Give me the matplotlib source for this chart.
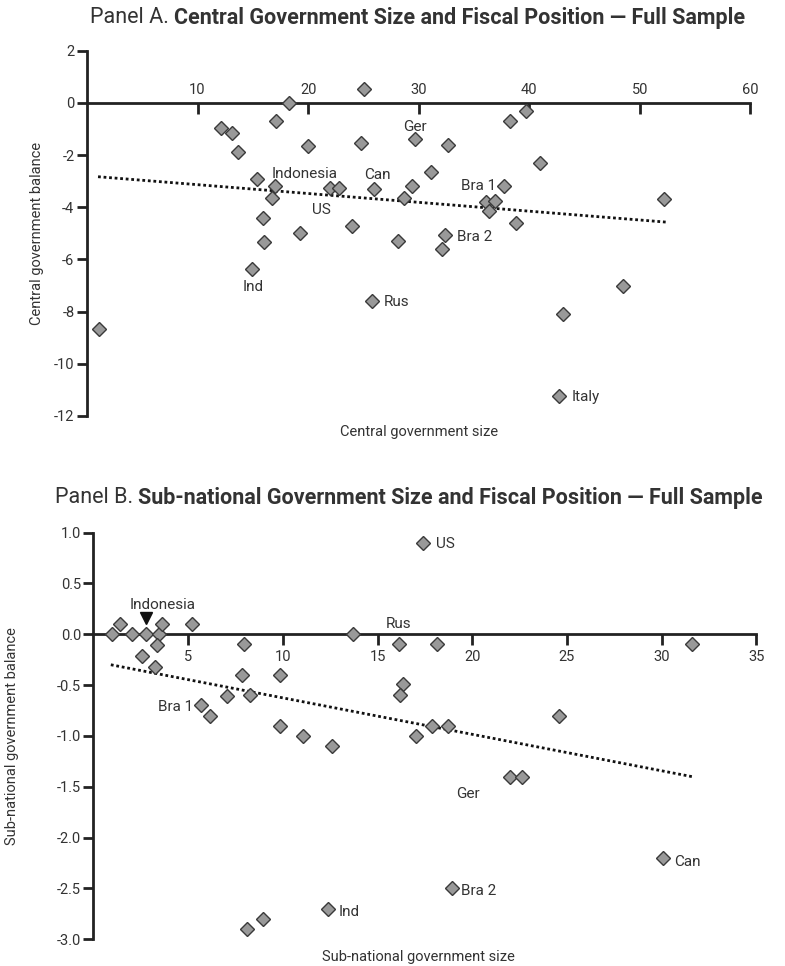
import matplotlib
matplotlib.use("Agg")
import matplotlib.pyplot as plt

plt.rcParams['font.family'] = ['Roboto', 'DejaVu Sans']
plt.rcParams['axes.unicode_minus'] = False

# Panel A: central government size vs balance
cent_x = [1.1, 12.1, 13.1, 13.7, 15.4, 15.9, 16.0, 14.9, 16.75, 17.0, 17.1, 18.3, 19.3, 20.0,
          22.0, 22.8, 24.0, 24.8, 25.1, 25.8, 26.0, 28.1, 28.7, 29.4, 29.7, 31.1, 32.1, 32.4,
          32.7, 36.1, 36.4, 36.9, 37.7, 38.3, 38.8, 39.7, 41.0, 42.7, 43.1, 48.5, 52.2]
cent_y = [-8.66, -0.95, -1.15, -1.9, -2.9, -4.4, -5.35, -6.35, -3.65, -3.2, -0.7, 0.0, -5.0, -1.65,
          -3.25, -3.25, -4.7, -1.55, 0.55, -7.6, -3.3, -5.3, -3.65, -3.2, -1.4, -2.65, -5.6, -5.05,
          -1.6, -3.8, -4.15, -3.75, -3.2, -0.7, -4.6, -0.3, -2.3, -11.25, -8.1, -7.0, -3.7]
cent_trend_x = [1.0, 52.4]
cent_trend_y = [-2.83, -4.57]
cent_labels = [("Ger", 29.7, -0.92, "center"), ("Indonesia", 19.65, -2.72, "center"),
               ("Can", 26.3, -2.78, "center"), ("US", 21.2, -4.11, "center"),
               ("Bra 1", 35.4, -3.19, "center"), ("Bra 2", 33.5, -5.15, "left"),
               ("Ind", 15.0, -7.06, "center"), ("Rus", 26.8, -7.62, "left"),
               ("Italy", 43.8, -11.28, "left")]

# Panel B: sub-national government size vs balance
sub_x = [0.97, 1.42, 2.04, 2.78, 3.47, 3.6, 3.36, 2.59, 3.25, 5.19, 7.97, 7.86, 9.85, 7.07,
         8.25, 13.73, 16.14, 16.35, 16.19, 5.68, 6.15, 17.4, 18.16, 31.6, 24.58, 9.85, 11.08,
         12.59, 17.02, 8.09, 8.97, 12.36, 17.86, 18.72, 21.98, 22.65, 30.06, 18.93]
sub_y = [0.0, 0.1, 0.0, 0.0, 0.0, 0.1, -0.11, -0.21, -0.32, 0.1, -0.1, -0.4, -0.4, -0.61,
         -0.6, 0.0, -0.1, -0.49, -0.6, -0.7, -0.8, 0.9, -0.1, -0.1, -0.8, -0.9, -1.0,
         -1.1, -1.0, -2.9, -2.8, -2.7, -0.9, -0.9, -1.4, -1.4, -2.2, -2.5]
sub_trend_x = [0.92, 31.6]
sub_trend_y = [-0.30, -1.40]
sub_labels = [("US", 18.1, 0.89, "left"), ("Indonesia", 3.64, 0.29, "center"),
              ("Rus", 16.1, 0.1, "center"), ("Bra 1", 5.27, -0.72, "right"),
              ("Ger", 19.78, -1.57, "center"), ("Can", 30.65, -2.24, "left"),
              ("Bra 2", 19.43, -2.52, "left"), ("Ind", 12.92, -2.73, "left")]
indonesia_arrow = (2.76, 0.16)

TXT = '#333333'
LINE = '#222222'


def style_axes(ax):
    ax.spines['right'].set_visible(False)
    ax.spines['left'].set_linewidth(2)
    ax.spines['left'].set_color(LINE)
    ax.tick_params(axis='y', direction='out', length=7, width=2, color=LINE,
                   labelsize=10.5, labelcolor=TXT, pad=2)
    ax.set_facecolor('none')


def draw_points(ax, x, y, tx, ty, labels):
    ax.plot(tx, ty, linestyle=(0, (1, 1)), color='#111111', lw=2, zorder=2)
    ax.plot(x, y, 'D', ms=7, mfc='#999999', mec='#3a3a3a', mew=1, linestyle='none', zorder=3)
    for text, lx, ly, ha in labels:
        ax.text(lx, ly, text, ha=ha, va='center', fontsize=11, color=TXT)


def title(fig, x, y, head, body, right_px):
    # shrink the two-part title until it ends where the reference one does
    size = 15.5
    while True:
        t1 = fig.text(x, y, head, fontsize=size, color=TXT, va='center')
        t2 = plt.annotate(body, xy=(1, 0.5), xycoords=t1, xytext=(3.5, 0),
                          textcoords='offset points', fontsize=size, fontweight='bold',
                          color=TXT, va='center', annotation_clip=False)
        r = fig.canvas.get_renderer()
        if t2.get_window_extent(r).x1 <= right_px or size < 8:
            return
        t1.remove()
        t2.remove()
        size -= 0.1


fig = plt.figure(figsize=(7.85, 9.66), dpi=100)

# ---- Panel A
ax1 = fig.add_axes([0.1108, 0.5694, 0.845, 0.3781])
style_axes(ax1)
ax1.spines['bottom'].set_visible(False)
ax1.spines['top'].set_position(('data', 0))
ax1.spines['top'].set_linewidth(2)
ax1.spines['top'].set_color(LINE)
ax1.xaxis.set_ticks_position('top')
ax1.tick_params(axis='x', direction='in', length=8, width=2, color=LINE,
                labelsize=10.5, labelcolor=TXT, pad=4)
ax1.set_xlim(0, 60)
ax1.set_ylim(-12, 2)
ax1.set_xticks([10, 20, 30, 40, 50, 60])
ax1.set_yticks(range(-12, 3, 2))
draw_points(ax1, cent_x, cent_y, cent_trend_x, cent_trend_y, cent_labels)
ax1.set_xlabel('Central government size', fontsize=10.5, color=TXT)
ax1.xaxis.set_label_position('bottom')
ax1.xaxis.set_label_coords(0.5, -0.025)
ax1.set_ylabel('Central government balance', fontsize=10.5, color=TXT)
ax1.yaxis.set_label_coords(-0.065, 0.5)

# ---- Panel B
ax2 = fig.add_axes([0.119, 0.0276, 0.8445, 0.4211])
style_axes(ax2)
ax2.spines['top'].set_visible(False)
ax2.spines['bottom'].set_position(('data', 0))
ax2.spines['bottom'].set_linewidth(2)
ax2.spines['bottom'].set_color(LINE)
ax2.tick_params(axis='x', direction='out', length=8, width=2, color=LINE,
                labelsize=10.5, labelcolor=TXT, pad=3)
ax2.set_xlim(0, 35)
ax2.set_ylim(-3.0, 1.0)
ax2.set_xticks([5, 10, 15, 20, 25, 30, 35])
ax2.set_yticks([1.0, 0.5, 0.0, -0.5, -1.0, -1.5, -2.0, -2.5, -3.0])
ax2.set_yticklabels(['%.1f' % v for v in [1.0, 0.5, 0.0, -0.5, -1.0, -1.5, -2.0, -2.5, -3.0]])
draw_points(ax2, sub_x, sub_y, sub_trend_x, sub_trend_y, sub_labels)
ax2.plot([indonesia_arrow[0]], [indonesia_arrow[1]], 'v', ms=8, color='#111111', zorder=4)
ax2.set_xlabel('Sub-national government size', fontsize=10.5, color=TXT)
ax2.xaxis.set_label_coords(0.491, -0.026)
ax2.set_ylabel('Sub-national government balance', fontsize=10.5, color=TXT)
ax2.yaxis.set_label_coords(-0.112, 0.5)

title(fig, 0.1146, 0.9814, 'Panel A.',
      'Central Government Size and Fiscal Position \u2014 Full Sample', 783)
title(fig, 0.070, 0.4845, 'Panel B.',
      'Sub-national Government Size and Fiscal Position \u2014 Full Sample', 772)

fig.savefig('out.png', dpi=100)
